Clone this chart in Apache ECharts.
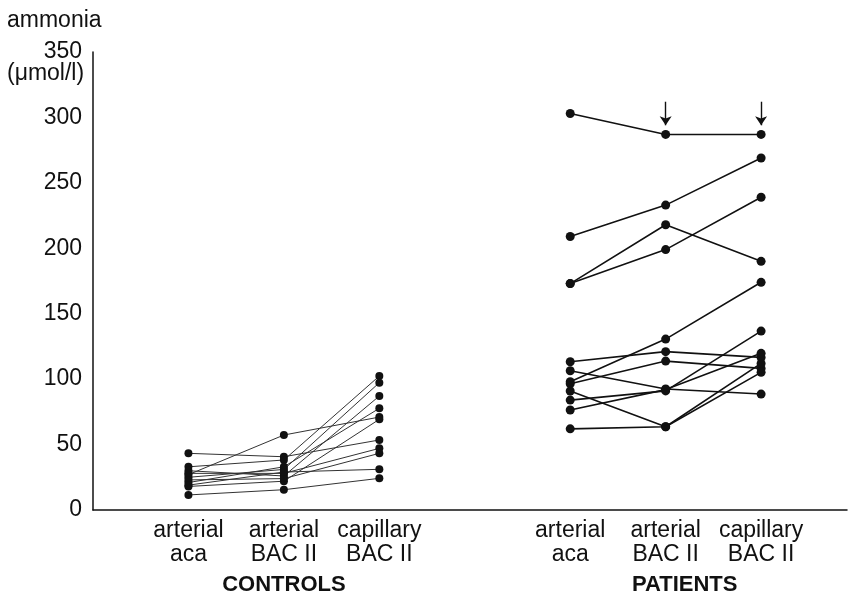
<!DOCTYPE html>
<html>
<head>
<meta charset="utf-8">
<style>
html,body{margin:0;padding:0;background:#fff;}
#chart{width:850px;height:596px;}
</style>
<script src="https://cdn.jsdelivr.net/npm/echarts@6/dist/echarts.min.js"></script>
</head>
<body>
<div id="chart"></div>
<script>
// ---- data ----
const sampleLabels = ['arterial\naca', 'arterial\nBAC II', 'capillary\nBAC II'];
const groupLabels = ['CONTROLS', 'PATIENTS'];
const yAxisTitle = 'ammonia';
const yUnit = '(\u03bcmol/l)';

// controls: one entry per subject
const controlsAca = [43.3, 27, 11.5, 33, 25, 30, 21, 18, 28, 23, 19];
const controlsBac = [40.7, 57.3, 15.5, 38.2, 31, 26, 33, 22, 28, 24, 29];
const controlsCap = [53.5, 71, 24.2, 102.4, 97.3, 87.1, 77.7, 69.3, 47.1, 43.3, 31.1];

// patients: one entry per subject
const patientsAca = [303, 209, 173, 173, 98, 113.3, 96.5, 106.4, 84, 76.4, 90.9, 62];
const patientsBac = [287, 233, 218, 199, 130.6, 121, 113.8, 92.5, 91, 92, 63.6, 63.6];
const patientsCap = [287, 269, 190, 239, 174, 116.6, 108.2, 88.6, 136.7, 119.7, 112, 105.2];

// arrows marking the top patient values (from, to)
const arrowSlots = [5, 6];
const arrowFrom = 312;
const arrowTo = 294;

// slot positions of the sample types on the x scale
const controlSlots = [0, 1, 2];
const patientSlots = [4, 5, 6];

const FONT = '"Liberation Sans", Arial, Helvetica, sans-serif';

const labelMap = {};
controlSlots.forEach((s, i) => labelMap[s] = sampleLabels[i]);
patientSlots.forEach((s, i) => labelMap[s] = sampleLabels[i]);

const series = [];
controlsAca.forEach((v, i) => {
  series.push({
    type: 'line', silent: true, animation: false,
    symbol: 'circle', symbolSize: 8,
    lineStyle: { color: '#333', width: 1 },
    itemStyle: { color: '#111' },
    data: [[controlSlots[0], v], [controlSlots[1], controlsBac[i]], [controlSlots[2], controlsCap[i]]]
  });
});
patientsAca.forEach((v, i) => {
  const s = {
    type: 'line', silent: true, animation: false,
    symbol: 'circle', symbolSize: 9,
    lineStyle: { color: '#111', width: 1.6 },
    itemStyle: { color: '#111' },
    data: [[patientSlots[0], v], [patientSlots[1], patientsBac[i]], [patientSlots[2], patientsCap[i]]]
  };
  if (i === 0) {
    s.markLine = {
      silent: true, animation: false,
      symbol: ['none', 'arrow'], symbolSize: 9,
      lineStyle: { color: '#111', width: 1.4, type: 'solid' },
      itemStyle: { color: '#111' },
      label: { show: false },
      data: arrowSlots.map(x => [{ coord: [x, arrowFrom] }, { coord: [x, arrowTo] }])
    };
  }
  series.push(s);
});

const chart = echarts.init(document.getElementById('chart'));
chart.setOption({
  backgroundColor: '#fff',
  animation: false,
  title: [
    { text: yAxisTitle, left: 7, top: 9, padding: 0,
      textStyle: { fontFamily: FONT, fontSize: 23, fontWeight: 'normal', color: '#111' } },
    { text: yUnit, left: 7, top: 62, padding: 0,
      textStyle: { fontFamily: FONT, fontSize: 23, fontWeight: 'normal', color: '#111' } }
  ],
  grid: { left: 93, right: 0, top: 52, bottom: 86, containLabel: false },
  xAxis: [
    {
      type: 'value', min: -1, max: 6.9, interval: 1,
      axisLine: { show: true, onZero: false, lineStyle: { color: '#111', width: 1.5 } },
      axisTick: { show: false },
      splitLine: { show: false },
      axisLabel: {
        margin: 9, fontFamily: FONT, fontSize: 23, lineHeight: 24, color: '#111',
        showMinLabel: true, showMaxLabel: true,
        formatter: v => (labelMap[v] !== undefined ? labelMap[v] : '')
      }
    },
    {
      type: 'value', min: -1, max: 6.9, interval: 1, position: 'bottom',
      axisLine: { show: false, onZero: false }, axisTick: { show: false }, splitLine: { show: false },
      axisLabel: {
        margin: 64, fontFamily: FONT, color: '#111',
        formatter: v => v === controlSlots[1] ? '{c|' + groupLabels[0] + '}' : (v === patientSlots[1] ? '{p|' + groupLabels[1] + '}' : ''),
        rich: {
          c: { fontFamily: FONT, fontSize: 22, fontWeight: 'bold', color: '#111' },
          p: { fontFamily: FONT, fontSize: 22, fontWeight: 'bold', color: '#111', padding: [0, 0, 0, 38] }
        }
      }
    }
  ],
  yAxis: {
    type: 'value', min: 0, max: 350, interval: 50,
    axisLine: { show: true, onZero: false, lineStyle: { color: '#111', width: 1.5 } },
    axisTick: { show: false },
    splitLine: { show: false },
    axisLabel: { margin: 11, fontFamily: FONT, fontSize: 23, color: '#111' }
  },
  series: series
});
</script>
</body>
</html>
